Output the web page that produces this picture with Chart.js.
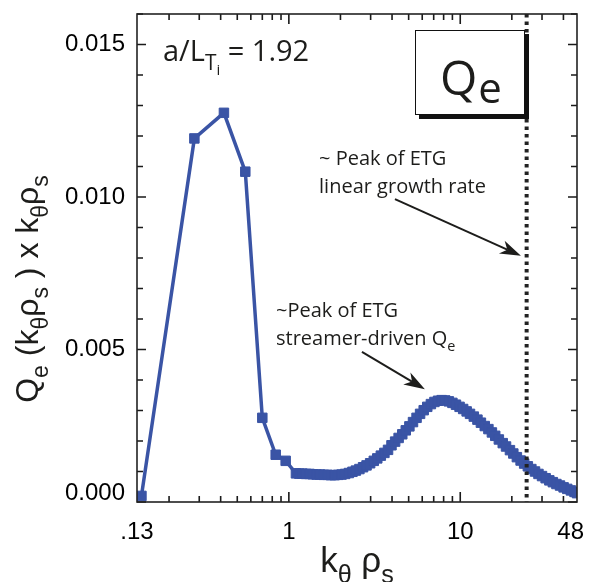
<!DOCTYPE html>
<html>
<head>
<meta charset="utf-8">
<script src="https://cdn.jsdelivr.net/npm/chart.js@4.4.0/dist/chart.umd.min.js"></script>
<style>
  html, body { margin: 0; padding: 0; background: #fff; }
  #wrap { width: 590px; height: 582px; position: relative; }
</style>
</head>
<body>
<div id="wrap"><canvas id="qe-chart"></canvas></div>
<script>
// Qe(k) * k spectrum vs k_theta rho_s, a/L_Ti = 1.92
// coarse scan at low k
const kCoarse  = [0.138, 0.281, 0.418, 0.557, 0.700, 0.838, 0.958];
const qeCoarse = [0.0002, 0.01192, 0.01276, 0.01083, 0.00276, 0.00155, 0.00135];

// fine scan out to k = 48
const kFine = [
  1.10, 1.15, 1.20, 1.26, 1.32, 1.38, 1.45, 1.52, 1.60, 1.68,
  1.76, 1.85, 1.94, 2.03, 2.13, 2.24, 2.35, 2.46, 2.58, 2.71,
  2.84, 2.98, 3.13, 3.28, 3.44, 3.61, 3.79, 3.97, 4.17, 4.37,
  4.59, 4.81, 5.05, 5.30, 5.56, 5.83, 6.12, 6.42, 6.74, 7.07,
  7.42, 7.79, 8.17, 8.58, 9.00, 9.44, 9.91, 10.4, 10.9, 11.4,
  12.0, 12.6, 13.2, 13.9, 14.6, 15.3, 16.0, 16.8, 17.7, 18.5,
  19.5, 20.4, 21.4, 22.5, 23.6, 24.8, 26.0, 27.3, 28.6, 30.0,
  31.5, 33.1, 34.7, 36.4, 38.2, 40.1, 42.1, 44.2, 46.4, 48.0
];
const qeFine = [
  0.00094, 0.00093, 0.00093, 0.00092, 0.00092, 0.00091, 0.00090, 0.00090, 0.00089, 0.00089,
  0.00088, 0.00088, 0.00089, 0.00090, 0.00092, 0.00095, 0.00099, 0.00103, 0.00108, 0.00114,
  0.00120, 0.00127, 0.00135, 0.00143, 0.00152, 0.00161, 0.00171, 0.00186, 0.00198, 0.00210,
  0.00222, 0.00235, 0.00248, 0.00262, 0.00276, 0.00289, 0.00301, 0.00312, 0.00321, 0.00328,
  0.00332, 0.00334, 0.00333, 0.00330, 0.00325, 0.00319, 0.00312, 0.00305, 0.00297, 0.00289,
  0.00280, 0.00270, 0.00260, 0.00249, 0.00239, 0.00228, 0.00217, 0.00205, 0.00193, 0.00182,
  0.00170, 0.00159, 0.00147, 0.00136, 0.00126, 0.00117, 0.00108, 0.00100, 0.00092, 0.00085,
  0.00078, 0.00071, 0.00065, 0.00059, 0.00054, 0.00048, 0.00043, 0.00038, 0.00033, 0.00029
];

const xTickValues = [0.13, 1, 10, 48];
const xTickLabels = ['.13', '1', '10', '48'];
const yTickValues = [0, 0.005, 0.010, 0.015];
const yTickLabels = ['0.000', '0.005', '0.010', '0.015'];

// peak of the ETG linear growth rate
const kLinearPeak = 24.4;

const BLUE = '#3a54a5';
const INK = '#1d1d1b';
const SANS = '"Liberation Sans", Arial, sans-serif';
const HUMAN = '"Open Sans", "Noto Sans", sans-serif';

const allK = kCoarse.concat(kFine);
const allQ = qeCoarse.concat(qeFine);
const points = allK.map((k, i) => ({ x: k, y: allQ[i] }));

// text with sub / sub-sub scripts: parts = [[text, level], ...]
function richWidth(ctx, parts, size, family) {
  let w = 0;
  for (const [t, lvl] of parts) {
    ctx.font = (size * Math.pow(0.72, lvl)) + 'px ' + family;
    w += ctx.measureText(t).width;
  }
  return w;
}
function drawRich(ctx, parts, x, y, size, family) {
  let cx = x;
  for (const [t, lvl] of parts) {
    const s = size * Math.pow(0.72, lvl);
    const dy = lvl === 0 ? 0 : (lvl === 1 ? size * 0.3 : size * 0.48);
    ctx.font = s + 'px ' + family;
    ctx.fillText(t, cx, y + dy);
    cx += ctx.measureText(t).width;
  }
}

function drawArrow(ctx, x0, y0, x1, y1) {
  const ang = Math.atan2(y1 - y0, x1 - x0);
  const len = 21, half = 7, notch = 15;
  ctx.beginPath();
  ctx.moveTo(x0, y0);
  ctx.lineTo(x1 - Math.cos(ang) * notch, y1 - Math.sin(ang) * notch);
  ctx.stroke();
  ctx.save();
  ctx.translate(x1, y1);
  ctx.rotate(ang);
  ctx.beginPath();
  ctx.moveTo(0, 0);
  ctx.lineTo(-len, -half);
  ctx.lineTo(-notch, 0);
  ctx.lineTo(-len, half);
  ctx.closePath();
  ctx.fill();
  ctx.restore();
}

// dotted marker line, notes, Qe box, axis titles
const notesPlugin = {
  id: 'notes',
  afterDatasetsDraw(chart) {
    const ctx = chart.ctx;
    const a = chart.chartArea;
    const xs = chart.scales.x, ys = chart.scales.y;
    const px = v => xs.getPixelForValue(v);
    const py = v => ys.getPixelForValue(v);

    ctx.save();

    // dotted line at the linear growth-rate peak
    ctx.strokeStyle = '#222';
    ctx.lineWidth = 4;
    ctx.setLineDash([3.5, 4]);
    ctx.beginPath();
    ctx.moveTo(px(kLinearPeak), a.top);
    ctx.lineTo(px(kLinearPeak), a.bottom);
    ctx.stroke();
    ctx.setLineDash([]);

    // tick labels
    ctx.fillStyle = '#000';
    ctx.font = '24px ' + SANS;
    ctx.textBaseline = 'middle';
    ctx.textAlign = 'right';
    yTickValues.forEach((v, i) => {
      const y = Math.min(py(v), a.bottom - 9);
      ctx.fillText(yTickLabels[i], a.left - 12, y);
    });
    ctx.textAlign = 'center';
    xTickValues.forEach((v, i) => {
      const w = ctx.measureText(xTickLabels[i]).width;
      const x = Math.min(px(v), chart.width - 6 - w / 2);
      ctx.fillText(xTickLabels[i], x, a.bottom + 30);
    });

    // annotations
    ctx.fillStyle = INK;
    ctx.strokeStyle = INK;
    ctx.lineWidth = 2;
    ctx.textBaseline = 'alphabetic';
    ctx.textAlign = 'left';

    drawRich(ctx, [['~ Peak of ETG', 0]], px(1.50), py(0.01105), 20, HUMAN);
    drawRich(ctx, [['linear growth rate', 0]], px(1.50), py(0.01013), 20, HUMAN);
    drawArrow(ctx, px(4.16), py(0.00993), px(22.6), py(0.00807));

    drawRich(ctx, [['~Peak of ETG', 0]], px(0.841), py(0.00607), 20, HUMAN);
    drawRich(ctx, [['streamer-driven Q', 0], ['e', 1]], px(0.841), py(0.00515), 20, HUMAN);
    drawArrow(ctx, px(2.67), py(0.00492), px(6.22), py(0.00370));

    // a/L_Ti label
    drawRich(ctx, [['a/L', 0], ['T', 1], ['i', 2], [' = 1.92', 0]], a.left + 26, a.top + 47, 29, HUMAN);

    // Qe box with drop shadow
    const bx = 415, by = 30, bw = 110, bh = 85;
    ctx.fillStyle = '#111';
    ctx.fillRect(bx + 4, by + 4, bw, bh);
    ctx.fillStyle = '#fff';
    ctx.fillRect(bx, by, bw, bh);
    ctx.strokeStyle = '#111';
    ctx.lineWidth = 1;
    ctx.strokeRect(bx + 0.5, by + 0.5, bw - 1, bh - 1);
    ctx.fillStyle = INK;
    ctx.font = '48px ' + HUMAN;
    ctx.fillText('Q', bx + 25, by + 65);
    const qW = ctx.measureText('Q').width;
    ctx.font = '42px ' + HUMAN;
    ctx.fillText('e', bx + 25 + qW + 1, by + 73);

    // axis titles
    const yTitle = [['Q', 0], ['e', 1], [' (k', 0], ['\u03b8', 1], ['\u03c1', 0], ['s', 1],
                    [' ) x k', 0], ['\u03b8', 1], ['\u03c1', 0], ['s', 1]];
    const yw = richWidth(ctx, yTitle, 32, SANS);
    ctx.save();
    ctx.translate(38, 289);
    ctx.rotate(-Math.PI / 2);
    drawRich(ctx, yTitle, -yw / 2, 0, 32, SANS);
    ctx.restore();

    const xTitle = [['k', 0], ['\u03b8', 1], [' \u03c1', 0], ['s', 1]];
    const xw = richWidth(ctx, xTitle, 35, SANS);
    drawRich(ctx, xTitle, 357 - xw / 2, 572, 35, SANS);

    ctx.restore();
  }
};

// plot frame with inward ticks on all four sides, drawn last
const framePlugin = {
  id: 'frame',
  afterDraw(chart) {
    const ctx = chart.ctx;
    const a = chart.chartArea;
    const xs = chart.scales.x, ys = chart.scales.y;

    const segs = [];
    for (const dec of [0.1, 1, 10]) {
      for (let m = 1; m <= 9; m++) {
        const v = m * dec;
        if (v < 0.13 || v > 48) continue;
        const len = m === 1 ? 10 : 6;
        const x = xs.getPixelForValue(v);
        segs.push([x, a.bottom, x, a.bottom - len]);
        segs.push([x, a.top, x, a.top + len]);
      }
    }
    for (let i = 0; i <= 16; i++) {
      const y = ys.getPixelForValue(i * 0.001);
      const len = i % 5 === 0 ? 9 : 6;
      segs.push([a.left, y, a.left + len, y]);
      segs.push([a.right, y, a.right - len, y]);
    }

    ctx.save();
    ctx.strokeStyle = '#1a1a1a';
    ctx.lineWidth = 1.6;
    ctx.beginPath();
    for (const [x0, y0, x1, y1] of segs) {
      ctx.moveTo(x0, y0);
      ctx.lineTo(x1, y1);
    }
    ctx.stroke();

    ctx.strokeStyle = '#222';
    ctx.lineWidth = 1.6;
    ctx.strokeRect(a.left, a.top, a.right - a.left, a.bottom - a.top);
    ctx.restore();
  }
};

new Chart(document.getElementById('qe-chart'), {
  type: 'line',
  data: {
    datasets: [{
      data: points,
      borderColor: BLUE,
      backgroundColor: BLUE,
      borderWidth: 3.5,
      pointStyle: 'rect',
      pointRadius: 6.7,
      pointBorderWidth: 1,
      pointBackgroundColor: BLUE,
      pointBorderColor: BLUE,
      tension: 0,
      clip: 0
    }]
  },
  options: {
    responsive: true,
    maintainAspectRatio: false,
    animation: false,
    layout: { padding: { top: 14, right: 13, left: 0, bottom: 0 } },
    plugins: { legend: { display: false }, tooltip: { enabled: false } },
    scales: {
      x: {
        type: 'logarithmic',
        min: 0.13,
        max: 48,
        grid: { display: false },
        border: { display: false },
        ticks: { display: false },
        afterBuildTicks: s => { s.ticks = xTickValues.map(v => ({ value: v })); },
        afterFit: s => { s.height = 80; s.paddingLeft = 0; s.paddingRight = 0; }
      },
      y: {
        min: 0,
        max: 0.016,
        grid: { display: false },
        border: { display: false },
        ticks: { display: false },
        afterBuildTicks: s => { s.ticks = yTickValues.map(v => ({ value: v })); },
        afterFit: s => { s.width = 137; s.paddingTop = 0; s.paddingBottom = 0; }
      }
    }
  },
  plugins: [notesPlugin, framePlugin]
});
</script>
</body>
</html>
